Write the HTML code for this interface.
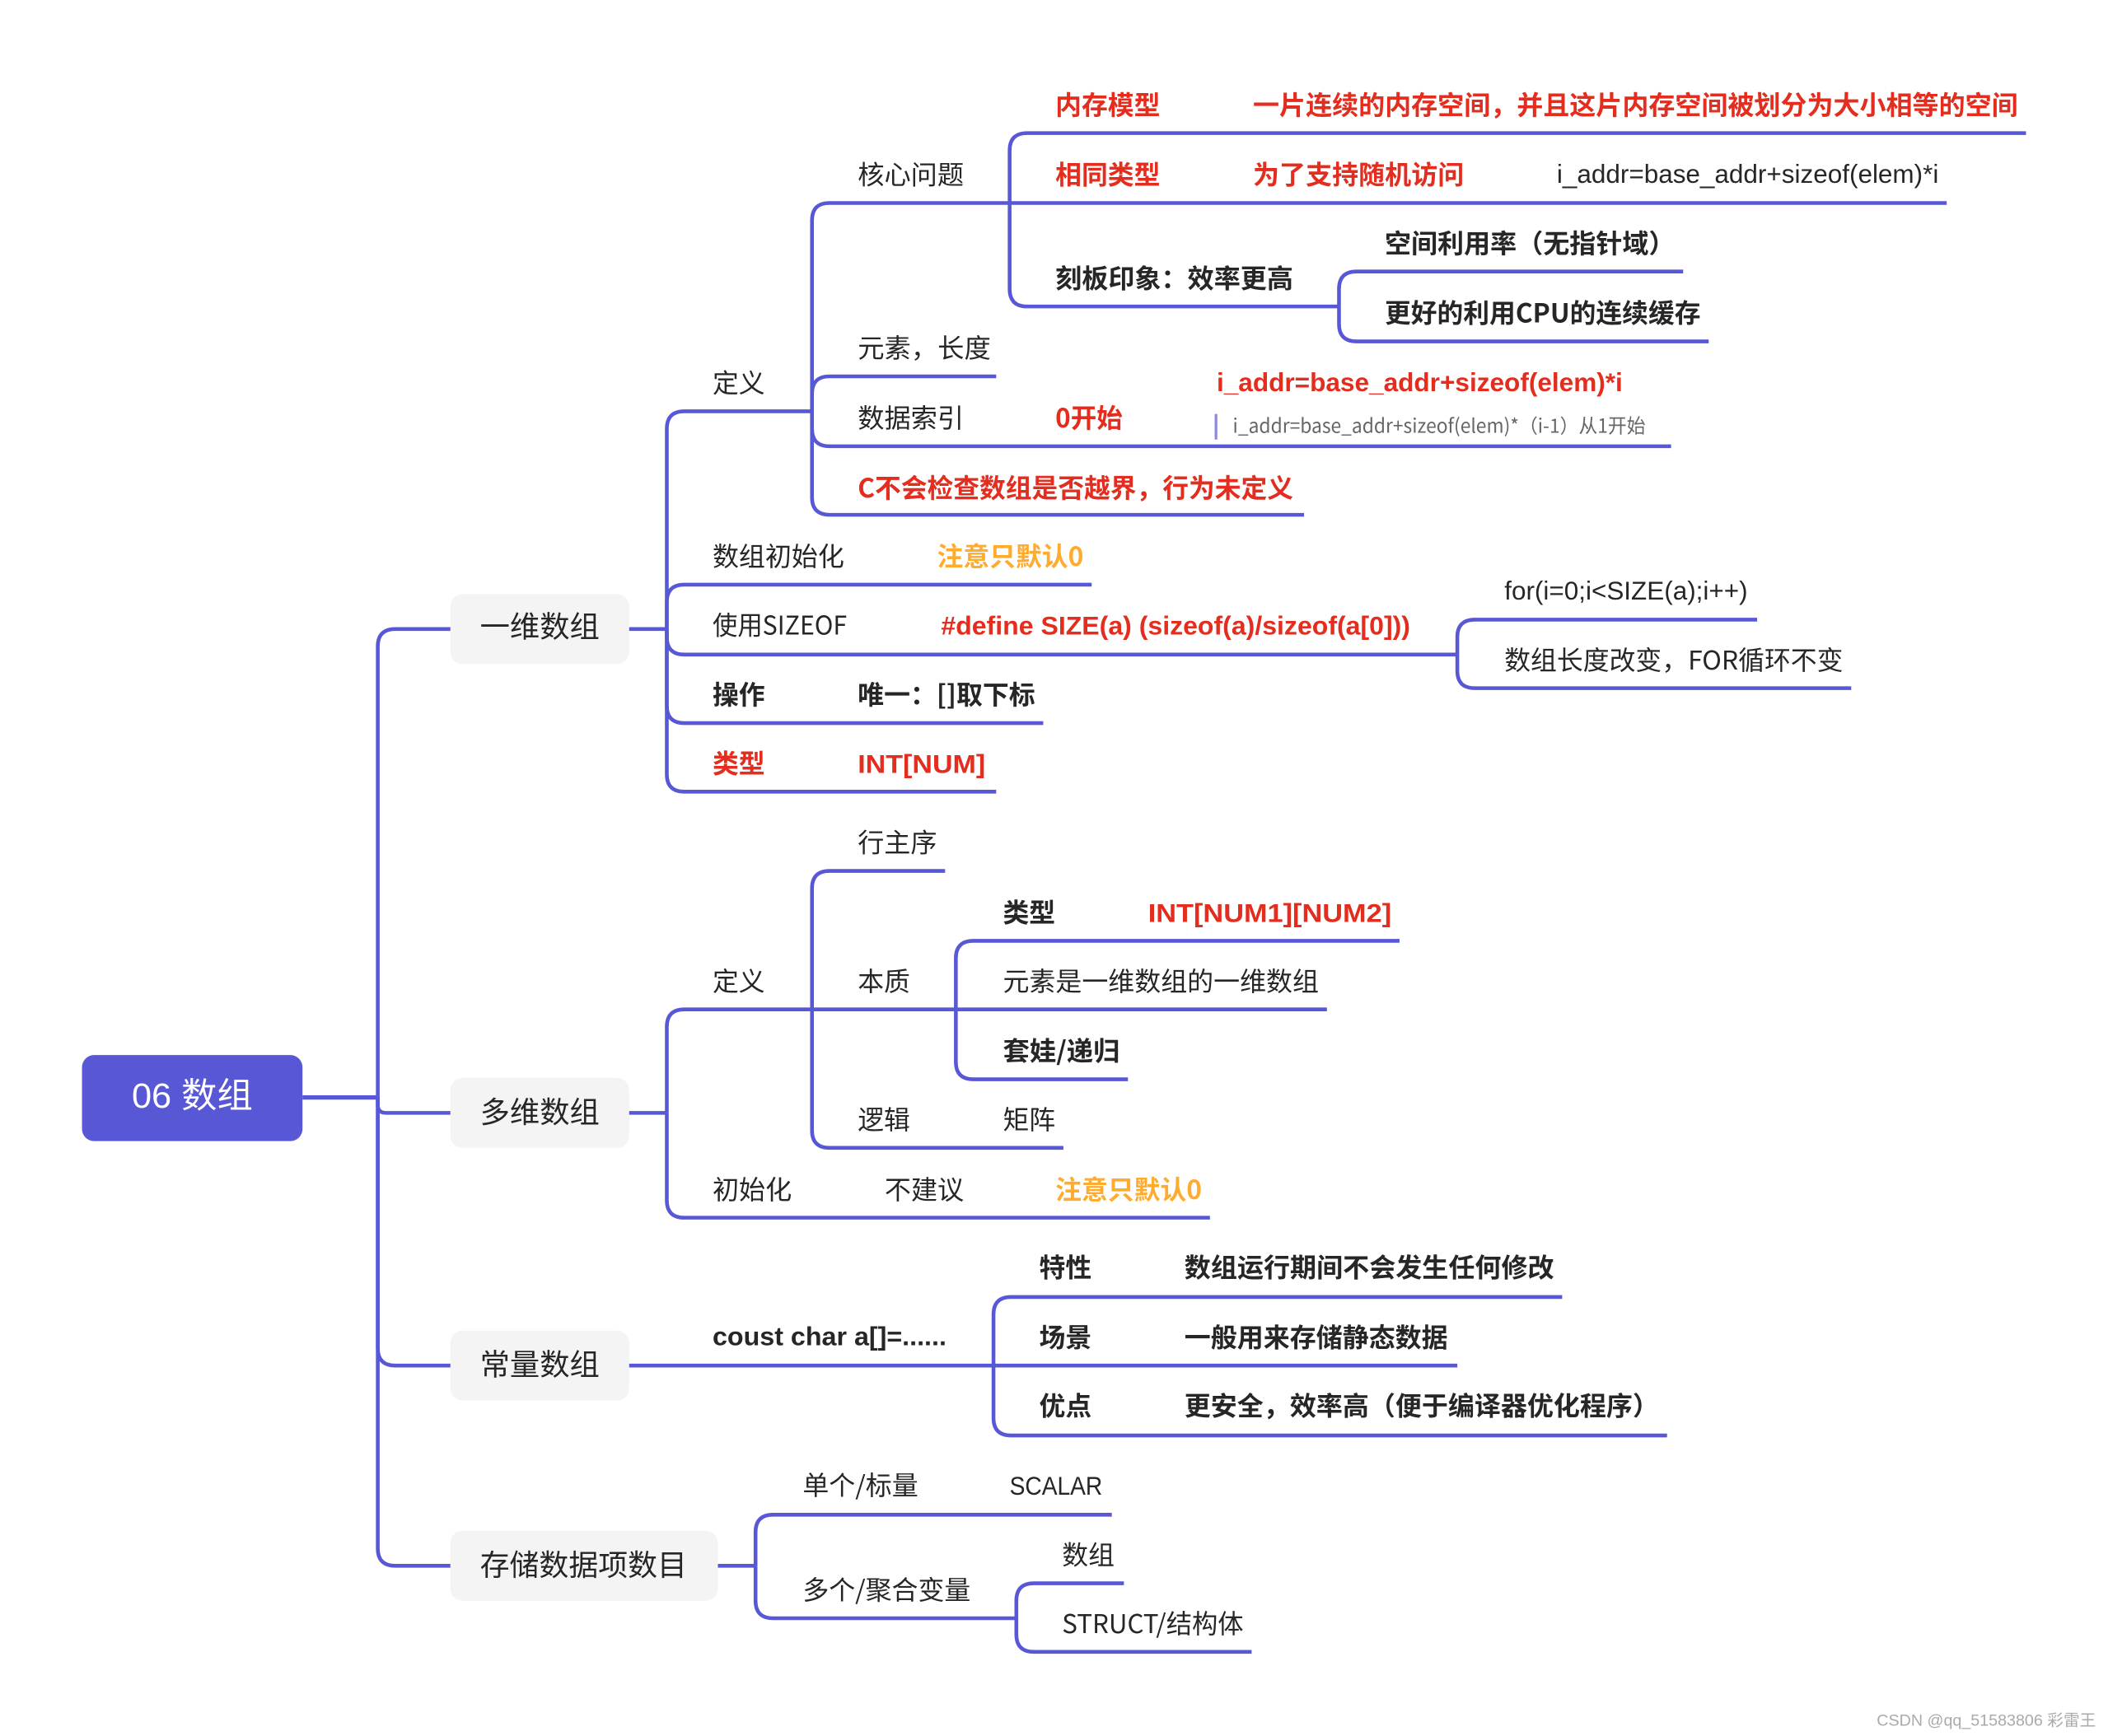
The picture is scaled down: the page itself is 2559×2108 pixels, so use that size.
<!DOCTYPE html>
<html><head><meta charset="utf-8"><style>
html,body{margin:0;padding:0;background:#fff}
svg{display:block}
text{font-family:"Liberation Sans","Noto Sans CJK SC",sans-serif;font-size:19.4px;fill:#262626}
.c{font-family:"Noto Sans CJK SC","Liberation Sans",sans-serif}
.b{font-weight:700}
.r{fill:#e22d1f;font-weight:700}
.o{fill:#ffab2e;font-weight:700}
path{fill:none;stroke:#5858d6;stroke-width:2.8}
</style></head><body>
<svg xmlns="http://www.w3.org/2000/svg" width="2559" height="2108" viewBox="0 0 1568 1291.6">
<rect x="61" y="785" width="164" height="64" rx="9" fill="#5858d6"/>
<rect x="335" y="442" width="133" height="52" rx="9" fill="#f4f4f4"/>
<rect x="335" y="802" width="133" height="52" rx="9" fill="#f4f4f4"/>
<rect x="335" y="990" width="133" height="52" rx="9" fill="#f4f4f4"/>
<rect x="335" y="1139" width="199" height="52" rx="9" fill="#f4f4f4"/>
<path d="M225 816.500H281" style="stroke-width:3.2"/>
<path d="M281 816V481Q281 468 294 468H335"/>
<path d="M281 816V822Q281 828 287 828H335"/>
<path d="M281 816V1003Q281 1016 294 1016H335"/>
<path d="M281 816V1152Q281 1165 294 1165H335"/>
<path d="M468 468H496"/>
<path d="M496 468V319Q496 306 509 306H604"/>
<path d="M496 468V448Q496 435 509 435H812"/>
<path d="M496 468V474Q496 487 509 487H1084"/>
<path d="M496 468V525Q496 538 509 538H776"/>
<path d="M496 468V576Q496 589 509 589H741"/>
<path d="M604 306V164Q604 151 617 151H1448"/>
<path d="M604 306V293Q604 280 617 280H741"/>
<path d="M604 306V319Q604 332 617 332H1243"/>
<path d="M604 306V370Q604 383 617 383H970"/>
<path d="M751 151V112Q751 99 764 99H1507"/>
<path d="M751 151V215Q751 228 764 228H996"/>
<path d="M996 228V215Q996 202 1009 202H1252"/>
<path d="M996 228V241Q996 254 1009 254H1271"/>
<path d="M1084 487V474Q1084 461 1097 461H1307"/>
<path d="M1084 487V499Q1084 512 1097 512H1377"/>
<path d="M468 828H496"/>
<path d="M496 828V764Q496 751 509 751H711"/>
<path d="M496 828V893Q496 906 509 906H900"/>
<path d="M604 751V661Q604 648 617 648H703"/>
<path d="M604 751V841Q604 854 617 854H791"/>
<path d="M711 751V713Q711 700 724 700H1041"/>
<path d="M711 751H987"/>
<path d="M711 751V790Q711 803 724 803H839"/>
<path d="M468 1016H1084"/>
<path d="M739 1016V978Q739 965 752 965H1162"/>
<path d="M739 1016V1055Q739 1068 752 1068H1240"/>
<path d="M534 1165H562"/>
<path d="M562 1165V1140Q562 1127 575 1127H827"/>
<path d="M562 1165V1191Q562 1204 575 1204H756"/>
<path d="M756 1204V1191Q756 1178 769 1178H836"/>
<path d="M756 1204V1216Q756 1229 769 1229H931"/>
<rect x="903.500" y="308" width="2" height="19" fill="#8a8ae0"/>

<text x="98" y="824" textLength="90" lengthAdjust="spacingAndGlyphs" style="font-size:26px;fill:#fff">06 数组</text>
<text class="c" x="357" y="474" textLength="89" lengthAdjust="spacingAndGlyphs" style="font-size:22px">一维数组</text>
<text class="c" x="357" y="835" textLength="89" lengthAdjust="spacingAndGlyphs" style="font-size:22px">多维数组</text>
<text class="c" x="357" y="1023" textLength="89" lengthAdjust="spacingAndGlyphs" style="font-size:22px">常量数组</text>
<text class="c" x="357" y="1172" textLength="154" lengthAdjust="spacingAndGlyphs" style="font-size:22px">存储数据项数目</text>

<text class="r c" x="785" y="85" textLength="78" lengthAdjust="spacingAndGlyphs">内存模型</text>
<text class="r c" x="932" y="85" textLength="569" lengthAdjust="spacingAndGlyphs">一片连续的内存空间&#xFF0C;并且这片内存空间被划分为大小相等的空间</text>
<text class="c" x="638" y="137" textLength="79" lengthAdjust="spacingAndGlyphs">核心问题</text>
<text class="r c" x="785" y="137" textLength="78" lengthAdjust="spacingAndGlyphs">相同类型</text>
<text class="r c" x="932" y="137" textLength="157" lengthAdjust="spacingAndGlyphs">为了支持随机访问</text>
<text x="1158" y="136" textLength="284" lengthAdjust="spacingAndGlyphs">i_addr=base_addr+sizeof(elem)*i</text>
<text class="b c" x="1030" y="188" textLength="216" lengthAdjust="spacingAndGlyphs">空间利用率&#xFF08;无指针域&#xFF09;</text>
<text class="b c" x="785" y="214" textLength="177" lengthAdjust="spacingAndGlyphs">刻板印象&#xFF1A;效率更高</text>
<text class="b c" x="1030" y="240" textLength="235" lengthAdjust="spacingAndGlyphs">更好的利用CPU的连续缓存</text>
<text class="c" x="638" y="266" textLength="99" lengthAdjust="spacingAndGlyphs">元素&#xFF0C;长度</text>
<text class="r" x="905" y="291" textLength="302" lengthAdjust="spacingAndGlyphs">i_addr=base_addr+sizeof(elem)*i</text>
<text class="c" x="530" y="292" textLength="39" lengthAdjust="spacingAndGlyphs">定义</text>
<text class="c" x="638" y="318" textLength="79" lengthAdjust="spacingAndGlyphs">数据索引</text>
<text class="r c" x="785" y="318" textLength="50" lengthAdjust="spacingAndGlyphs">0开始</text>
<text class="c" x="917" y="322" textLength="307" lengthAdjust="spacingAndGlyphs" style="font-size:14.500px;fill:#666">i_addr=base_addr+sizeof(elem)*&#xFF08;i-1&#xFF09;从1开始</text>
<text class="r c" x="638" y="370" textLength="324" lengthAdjust="spacingAndGlyphs">C不会检查数组是否越界&#xFF0C;行为未定义</text>
<text class="c" x="530" y="421" textLength="98" lengthAdjust="spacingAndGlyphs">数组初始化</text>
<text class="o c" x="697" y="421" textLength="109" lengthAdjust="spacingAndGlyphs">注意只默认0</text>
<text x="1119" y="446" textLength="181" lengthAdjust="spacingAndGlyphs">for(i=0;i&lt;SIZE(a);i++)</text>
<text class="c" x="530" y="472" textLength="100" lengthAdjust="spacingAndGlyphs">使用SIZEOF</text>
<text class="r" x="700" y="472" textLength="349" lengthAdjust="spacingAndGlyphs">#define SIZE(a) (sizeof(a)/sizeof(a[0]))</text>
<text class="c" x="1119" y="498" textLength="252" lengthAdjust="spacingAndGlyphs">数组长度改变&#xFF0C;FOR循环不变</text>
<text class="b c" x="530" y="524" textLength="39" lengthAdjust="spacingAndGlyphs">操作</text>
<text class="b c" x="638" y="524" textLength="132" lengthAdjust="spacingAndGlyphs">唯一&#xFF1A;[]取下标</text>
<text class="r c" x="530" y="575" textLength="39" lengthAdjust="spacingAndGlyphs">类型</text>
<text class="r" x="638" y="575" textLength="95" lengthAdjust="spacingAndGlyphs">INT[NUM]</text>

<text class="c" x="638" y="634" textLength="59" lengthAdjust="spacingAndGlyphs">行主序</text>
<text class="b c" x="746" y="686" textLength="39" lengthAdjust="spacingAndGlyphs">类型</text>
<text class="r" x="854" y="686" textLength="181" lengthAdjust="spacingAndGlyphs">INT[NUM1][NUM2]</text>
<text class="c" x="530" y="737" textLength="39" lengthAdjust="spacingAndGlyphs">定义</text>
<text class="c" x="638" y="737" textLength="39" lengthAdjust="spacingAndGlyphs">本质</text>
<text class="c" x="746" y="737" textLength="235" lengthAdjust="spacingAndGlyphs">元素是一维数组的一维数组</text>
<text class="b c" x="746" y="789" textLength="87" lengthAdjust="spacingAndGlyphs">套娃/递归</text>
<text class="c" x="638" y="840" textLength="39" lengthAdjust="spacingAndGlyphs">逻辑</text>
<text class="c" x="746" y="840" textLength="39" lengthAdjust="spacingAndGlyphs">矩阵</text>
<text class="c" x="530" y="892" textLength="59" lengthAdjust="spacingAndGlyphs">初始化</text>
<text class="c" x="658" y="892" textLength="59" lengthAdjust="spacingAndGlyphs">不建议</text>
<text class="o c" x="785" y="892" textLength="109" lengthAdjust="spacingAndGlyphs">注意只默认0</text>

<text class="b c" x="773" y="950" textLength="39" lengthAdjust="spacingAndGlyphs">特性</text>
<text class="b c" x="881" y="950" textLength="275" lengthAdjust="spacingAndGlyphs">数组运行期间不会发生任何修改</text>
<text class="b" x="530" y="1001" textLength="174" lengthAdjust="spacingAndGlyphs">coust char a[]=......</text>
<text class="b c" x="773" y="1002" textLength="39" lengthAdjust="spacingAndGlyphs">场景</text>
<text class="b c" x="881" y="1002" textLength="196" lengthAdjust="spacingAndGlyphs">一般用来存储静态数据</text>
<text class="b c" x="773" y="1053" textLength="39" lengthAdjust="spacingAndGlyphs">优点</text>
<text class="b c" x="881" y="1053" textLength="353" lengthAdjust="spacingAndGlyphs">更安全&#xFF0C;效率高&#xFF08;便于编译器优化程序&#xFF09;</text>

<text class="c" x="597" y="1112" textLength="86" lengthAdjust="spacingAndGlyphs">单个/标量</text>
<text x="751" y="1112" textLength="69" lengthAdjust="spacingAndGlyphs">SCALAR</text>
<text class="c" x="790" y="1164" textLength="39" lengthAdjust="spacingAndGlyphs">数组</text>
<text class="c" x="597" y="1190" textLength="125" lengthAdjust="spacingAndGlyphs">多个/聚合变量</text>
<text class="c" x="790" y="1215" textLength="135" lengthAdjust="spacingAndGlyphs">STRUCT/结构体</text>
<text x="1396" y="1284" textLength="163" lengthAdjust="spacingAndGlyphs" style="font-size:12px;fill:#aaa">CSDN @qq_51583806 彩雷王</text>
</svg>
</body></html>
